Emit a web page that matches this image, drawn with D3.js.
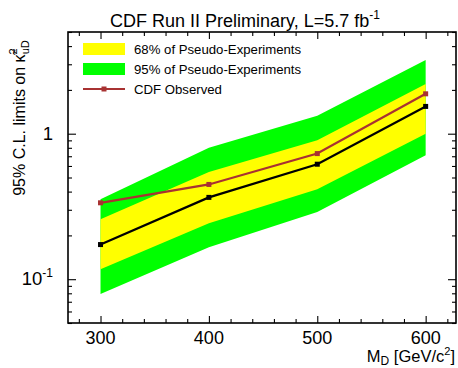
<!DOCTYPE html>
<html>
  <head>
    <title>CDF limits</title>
    <script src="https://d3js.org/d3.v7.min.js"></script>
    <style>
      body { margin: 0; background: #fff; }
      text { font-family: "Liberation Sans", Arial, sans-serif; fill: #000; }
    </style>
  </head>
  <body>
    <svg width="458" height="368"></svg>

    <script type="text/javascript">
      // values
      var masses = [300, 400, 500, 600];
      var observed = [0.335, 0.448, 0.73, 1.88];
      var expected = [0.173, 0.365, 0.617, 1.54];
      var band68Lo = [0.117, 0.242, 0.415, 1.0];
      var band68Hi = [0.258, 0.546, 0.9, 2.2];
      var band95Lo = [0.079, 0.166, 0.29, 0.71];
      var band95Hi = [0.355, 0.8, 1.33, 3.21];

      var xMajor = [300, 400, 500, 600];
      var xMinor = d3.range(280, 628, 20).filter(function (v) { return v % 100 != 0; });
      var yMajor = [0.1, 1];
      var yMinor = [0.05, 0.06, 0.07, 0.08, 0.09, 0.2, 0.3, 0.4, 0.5, 0.6, 0.7, 0.8, 0.9, 2, 3, 4, 5];

      var svg = d3.select("svg");
      var plotL = 68, plotR = 456, plotT = 32, plotB = 323;

      var x = d3.scaleLinear().domain([270, 628]).range([plotL, plotR]);
      var y = d3.scaleLog().domain([0.05, 5]).range([plotB, plotT]);

      // bands
      function band(lo, hi) {
        return d3.area()
          .x(function (d, i) { return x(masses[i]); })
          .y0(function (d, i) { return y(lo[i]); })
          .y1(function (d, i) { return y(hi[i]); })(masses);
      }
      svg.append("path").attr("d", band(band95Lo, band95Hi)).attr("fill", "#00ff00");
      svg.append("path").attr("d", band(band68Lo, band68Hi)).attr("fill", "#ffff00");

      var line = d3.line()
        .x(function (d, i) { return x(masses[i]); })
        .y(function (d) { return y(d); });

      // expected (black)
      svg.append("path").datum(expected).attr("d", line)
        .attr("fill", "none").attr("stroke", "#000").attr("stroke-width", 2.2);
      svg.append("g").selectAll("rect").data(expected).enter().append("rect")
        .attr("x", function (d, i) { return x(masses[i]) - 2.5; })
        .attr("y", function (d) { return y(d) - 2.5; })
        .attr("width", 5).attr("height", 5).attr("fill", "#000");

      // observed (red)
      var red = "#a83232";
      svg.append("path").datum(observed).attr("d", line)
        .attr("fill", "none").attr("stroke", red).attr("stroke-width", 2.2);
      svg.append("g").selectAll("rect").data(observed).enter().append("rect")
        .attr("x", function (d, i) { return x(masses[i]) - 2.5; })
        .attr("y", function (d) { return y(d) - 2.5; })
        .attr("width", 5).attr("height", 5).attr("fill", red);

      // frame
      svg.append("rect").attr("x", plotL).attr("y", plotT)
        .attr("width", plotR - plotL).attr("height", plotB - plotT)
        .attr("fill", "none").attr("stroke", "#000").attr("stroke-width", 1.6);

      // ticks (inward, mirrored)
      function ticks(axisFn, scale, vals, len, tx, ty) {
        var g = svg.append("g").attr("transform", "translate(" + tx + "," + ty + ")")
          .call(axisFn(scale).tickValues(vals).tickSizeInner(-len).tickSizeOuter(0).tickFormat(""));
        g.select(".domain").remove();
        g.selectAll("line").attr("stroke", "#000").attr("stroke-width", 1.1);
        return g;
      }
      ticks(d3.axisBottom, x, xMajor, 7, 0, plotB);
      ticks(d3.axisBottom, x, xMinor, 4, 0, plotB);
      ticks(d3.axisTop, x, xMajor, 7, 0, plotT);
      ticks(d3.axisTop, x, xMinor, 4, 0, plotT);
      ticks(d3.axisLeft, y, yMajor, 8, plotL, 0);
      ticks(d3.axisLeft, y, yMinor, 4, plotL, 0);
      ticks(d3.axisRight, y, yMajor, 8, plotR, 0);
      ticks(d3.axisRight, y, yMinor, 4, plotR, 0);

      // x tick labels
      svg.append("g").selectAll("text").data(xMajor).enter().append("text")
        .attr("x", function (d) { return x(d); })
        .attr("y", 344)
        .attr("text-anchor", "middle")
        .style("font-size", "18px")
        .text(function (d) { return d; });

      // y tick labels
      svg.append("text").attr("x", 53).attr("y", y(1) + 6)
        .attr("text-anchor", "end").style("font-size", "18.5px").text("1");
      var t01 = svg.append("text").attr("x", 53).attr("y", y(0.1) + 6)
        .attr("text-anchor", "end").style("font-size", "18.5px");
      t01.append("tspan").text("10");
      t01.append("tspan").attr("dy", -8).style("font-size", "12px").text("-1");

      // title
      var title = svg.append("text").attr("x", 245).attr("y", 27)
        .attr("text-anchor", "middle").style("font-size", "18px");
      title.append("tspan").text("CDF Run II Preliminary, L=5.7 fb");
      title.append("tspan").attr("dy", -8).style("font-size", "12px").text("-1");

      // x axis label
      var xl = svg.append("text").attr("x", 455).attr("y", 362)
        .attr("text-anchor", "end").style("font-size", "16.5px");
      xl.append("tspan").text("M");
      xl.append("tspan").attr("dy", 3).style("font-size", "12px").text("D");
      xl.append("tspan").attr("dy", -3).text(" [GeV/c");
      xl.append("tspan").attr("dy", -7).style("font-size", "11px").text("2");
      xl.append("tspan").attr("dy", 7).text("]");

      // y axis label
      var yl = svg.append("text")
        .attr("transform", "translate(25,118) rotate(-90)")
        .attr("text-anchor", "middle").style("font-size", "16px");
      yl.append("tspan").text("95% C.L. limits on \u03ba\u0303");
      yl.append("tspan").attr("dy", -8).style("font-size", "11px").text("2");
      yl.append("tspan").attr("dx", -6).attr("dy", 12).style("font-size", "11px").text("uD");

      // legend
      var legend = [
        { label: "68% of Pseudo-Experiments", kind: "box", color: "#ffff00" },
        { label: "95% of Pseudo-Experiments", kind: "box", color: "#00ff00" },
        { label: "CDF Observed", kind: "line", color: red }
      ];
      var lg = svg.append("g").selectAll("g").data(legend).enter().append("g")
        .attr("transform", function (d, i) { return "translate(0," + (49 + i * 20) + ")"; });
      lg.filter(function (d) { return d.kind == "box"; }).append("rect")
        .attr("x", 83).attr("y", -6).attr("width", 42).attr("height", 12)
        .attr("fill", function (d) { return d.color; });
      var ll = lg.filter(function (d) { return d.kind == "line"; });
      ll.append("line").attr("x1", 83).attr("x2", 125).attr("y1", 0).attr("y2", 0)
        .attr("stroke", function (d) { return d.color; }).attr("stroke-width", 2.2);
      ll.append("rect").attr("x", 101.5).attr("y", -2.5).attr("width", 5).attr("height", 5)
        .attr("fill", function (d) { return d.color; });
      lg.append("text").attr("x", 134).attr("y", 4.5)
        .style("font-size", "13.2px")
        .text(function (d) { return d.label; });
    </script>
  </body>
</html>
